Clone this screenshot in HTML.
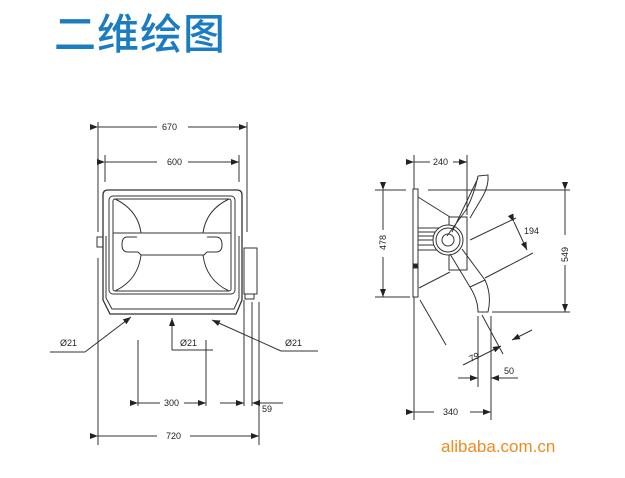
<!DOCTYPE html>
<html><head><meta charset="utf-8"><style>
body{margin:0;background:#fff;width:625px;height:473px;overflow:hidden}
</style></head><body>
<svg width="625" height="473" xmlns="http://www.w3.org/2000/svg" font-family="Liberation Sans, sans-serif">
<defs><marker id="a" markerWidth="8" markerHeight="6" refX="8" refY="3" orient="auto" markerUnits="userSpaceOnUse"><path d="M0,0L8,3L0,6z" fill="#222"/></marker></defs>
<text x="54" y="49" font-size="42" fill="#1c7cc2" font-family="Liberation Sans, Noto Sans CJK SC, sans-serif" font-weight="500" letter-spacing="1">二维绘图</text>
<g stroke="#333" stroke-width="1" fill="none">
<line x1="98" y1="122" x2="98" y2="232"/><line x1="247" y1="122" x2="247" y2="232"/>
<line x1="98" y1="127" x2="157" y2="127" marker-start="url(#a)"/><line x1="188" y1="127" x2="247" y2="127" marker-end="url(#a)"/>
<line x1="105" y1="155" x2="105" y2="182"/><line x1="239" y1="155" x2="239" y2="182"/>
<line x1="105" y1="162" x2="157" y2="162" marker-start="url(#a)"/><line x1="188" y1="162" x2="239" y2="162" marker-end="url(#a)"/>
<path d="M103,300 L103,195 Q103,190 108,190 L237,190 Q242,190 242,195 L242,300 L236,314 L110,314 Z" stroke-width="1.3"/>
<path d="M106,298 L106,236 M239,298 L239,236 M106,298 L112,309 L234,309 L239,298"/>
<rect x="109" y="196" width="126" height="98" rx="4"/>
<rect x="113" y="199" width="118" height="92" rx="2"/>
<line x1="113" y1="233" x2="231" y2="233"/>
<path d="M137,237 L127,237 Q122,237 122,245 Q122,252 128,252 L138,252 L141,255 L204,255 L207,252 L216,252 Q222,252 222,245 Q222,237 216,237 L207,237"/>
<path d="M115,199 Q138,210 141,233 M229,199 Q206,210 203,233 M115,291 Q138,280 141,255 M229,291 Q206,280 203,255"/>
<rect x="97" y="237" width="6" height="10"/>
<rect x="244" y="248" width="13" height="46"/><rect x="245" y="294" width="9" height="5"/>
<line x1="98" y1="258" x2="98" y2="445"/>
<line x1="50" y1="352" x2="85" y2="352"/><line x1="85" y1="352" x2="131" y2="317" marker-end="url(#a)"/>
<line x1="213" y1="350" x2="172" y2="350"/><line x1="172" y1="350" x2="172" y2="318" marker-end="url(#a)"/>
<line x1="318" y1="351" x2="281" y2="351"/><line x1="281" y1="351" x2="212" y2="320" marker-end="url(#a)"/>
<line x1="138" y1="340" x2="138" y2="406"/><line x1="206" y1="340" x2="206" y2="406"/>
<line x1="138" y1="403" x2="160" y2="403" marker-start="url(#a)"/><line x1="184" y1="403" x2="206" y2="403" marker-end="url(#a)"/>
<line x1="244" y1="300" x2="244" y2="406"/><line x1="252" y1="302" x2="252" y2="406"/><line x1="259" y1="302" x2="259" y2="445"/>
<line x1="220" y1="403" x2="244" y2="403" marker-end="url(#a)"/><line x1="283" y1="403" x2="252" y2="403" marker-end="url(#a)"/>
<line x1="98" y1="436" x2="157" y2="436" marker-start="url(#a)"/><line x1="190" y1="436" x2="259" y2="436" marker-end="url(#a)"/>
<line x1="414" y1="155" x2="414" y2="420"/><line x1="467" y1="155" x2="467" y2="215"/>
<line x1="414" y1="162" x2="430" y2="162" marker-start="url(#a)"/><line x1="453" y1="162" x2="467" y2="162" marker-end="url(#a)"/>
<line x1="375" y1="190" x2="406" y2="190"/><line x1="428" y1="190" x2="570" y2="190"/>
<line x1="375" y1="297" x2="410" y2="297"/>
<line x1="383" y1="190" x2="383" y2="230" marker-start="url(#a)"/><line x1="383" y1="257" x2="383" y2="297" marker-end="url(#a)"/>
<line x1="565" y1="190" x2="565" y2="235" marker-start="url(#a)"/><line x1="565" y1="265" x2="565" y2="312" marker-end="url(#a)"/>
<line x1="492" y1="312" x2="570" y2="312"/>
<rect x="413" y="189" width="5" height="108" fill="#fff"/><rect x="413" y="264" width="5" height="4" fill="#222"/>
<line x1="418" y1="197" x2="450" y2="217"/><line x1="419" y1="288" x2="450" y2="272"/>
<rect x="449" y="217" width="18" height="53"/>
<path d="M418,228H440M418,232H440M418,236H440M418,240H440M418,245H440M418,250H440"/>
<circle cx="448" cy="240" r="15" fill="#fff"/><circle cx="448" cy="240" r="12"/><circle cx="448" cy="240" r="6"/>
<path d="M478,176 L488,175 Q489,185 483,196 L470,218 M478,176 Q474,195 466,210 L447,236 M452,232 L478,178"/>
<path d="M450,254 L470,287 Q478,300 478,312 L488,312 Q492,295 485,280 L462,249 M470,287 L485,280"/>
<line x1="470" y1="240" x2="516" y2="218"/><line x1="485" y1="278" x2="533" y2="253"/>
<line x1="514" y1="222" x2="527" y2="250" marker-start="url(#a)" marker-end="url(#a)"/>
<line x1="420" y1="300" x2="446" y2="345"/>
<line x1="478" y1="316" x2="478" y2="387"/><line x1="491" y1="316" x2="491" y2="420"/>
<line x1="482" y1="315" x2="503" y2="354"/>
<line x1="463" y1="365" x2="501" y2="346" marker-end="url(#a)"/><line x1="532" y1="330" x2="512" y2="340" marker-end="url(#a)"/>
<line x1="458" y1="378" x2="478" y2="378" marker-end="url(#a)"/><line x1="518" y1="378" x2="491" y2="378" marker-end="url(#a)"/>
<line x1="414" y1="412" x2="434" y2="412" marker-start="url(#a)"/><line x1="470" y1="412" x2="491" y2="412" marker-end="url(#a)"/>
</g>
<g font-size="9" fill="#222">
<text x="162" y="130">670</text><text x="167" y="165">600</text>
<text x="60" y="346">Ø21</text><text x="180" y="346">Ø21</text><text x="285" y="346">Ø21</text>
<text x="164" y="406">300</text><text x="262" y="412">59</text><text x="166" y="439">720</text>
<text x="433" y="165">240</text><text x="524" y="234">194</text><text x="504" y="374">50</text><text x="443" y="415">340</text>
<text transform="translate(386,250) rotate(-90)">478</text>
<text transform="translate(568,262) rotate(-90)">549</text>
<text transform="translate(471,362) rotate(-27)">79</text>
</g>
<text x="441" y="452" font-size="17" fill="#f08a1d">alibaba.com.cn</text>
</svg>
</body></html>
